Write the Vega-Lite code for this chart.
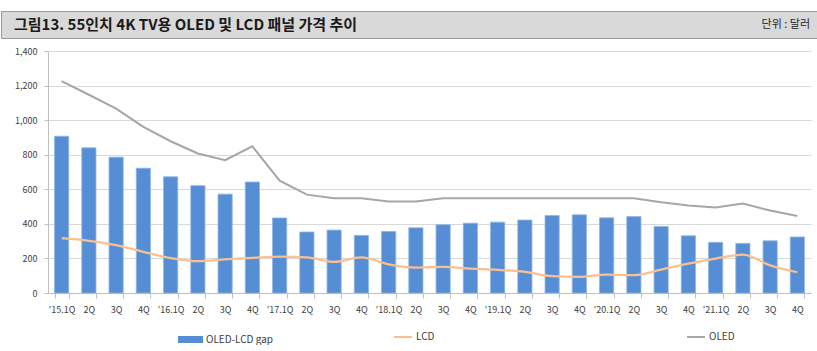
{
  "$schema": "https://vega.github.io/schema/vega-lite/v6.json",
  "padding": {"top": 10, "left": 0, "right": 0, "bottom": 0},
  "spacing": 8,
  "config": {
    "font": "Noto Sans CJK KR",
    "concat": {"spacing": 0},
    "view": {"stroke": null},
    "axis": {"labelFont": "Noto Sans CJK KR", "labelFontSize": 9, "labelColor": "#404040", "titleFont": "Noto Sans CJK KR"},
    "legend": {"labelFont": "Noto Sans CJK KR", "labelFontSize": 10, "labelColor": "#404040"}
  },
  "datasets": {
    "prices": [
      {"q": "'15.1Q", "gap": 907, "lcd": 317, "oled": 1226},
      {"q": "'15.2Q", "gap": 840, "lcd": 302, "oled": 1147},
      {"q": "'15.3Q", "gap": 786, "lcd": 277, "oled": 1066},
      {"q": "'15.4Q", "gap": 722, "lcd": 238, "oled": 961},
      {"q": "'16.1Q", "gap": 672, "lcd": 202, "oled": 878},
      {"q": "'16.2Q", "gap": 621, "lcd": 184, "oled": 807},
      {"q": "'16.3Q", "gap": 572, "lcd": 194, "oled": 768},
      {"q": "'16.4Q", "gap": 642, "lcd": 203, "oled": 849},
      {"q": "'17.1Q", "gap": 434, "lcd": 210, "oled": 650},
      {"q": "'17.2Q", "gap": 353, "lcd": 206, "oled": 569},
      {"q": "'17.3Q", "gap": 364, "lcd": 180, "oled": 548},
      {"q": "'17.4Q", "gap": 333, "lcd": 206, "oled": 548},
      {"q": "'18.1Q", "gap": 356, "lcd": 166, "oled": 529},
      {"q": "'18.2Q", "gap": 377, "lcd": 147, "oled": 529},
      {"q": "'18.3Q", "gap": 395, "lcd": 151, "oled": 548},
      {"q": "'18.4Q", "gap": 404, "lcd": 141, "oled": 548},
      {"q": "'19.1Q", "gap": 410, "lcd": 134, "oled": 548},
      {"q": "'19.2Q", "gap": 422, "lcd": 122, "oled": 548},
      {"q": "'19.3Q", "gap": 448, "lcd": 97, "oled": 548},
      {"q": "'19.4Q", "gap": 452, "lcd": 93, "oled": 548},
      {"q": "'20.1Q", "gap": 435, "lcd": 107, "oled": 548},
      {"q": "'20.2Q", "gap": 442, "lcd": 103, "oled": 548},
      {"q": "'20.3Q", "gap": 385, "lcd": 135, "oled": 525},
      {"q": "'20.4Q", "gap": 331, "lcd": 170, "oled": 506},
      {"q": "'21.1Q", "gap": 293, "lcd": 199, "oled": 494},
      {"q": "'21.2Q", "gap": 287, "lcd": 222, "oled": 517},
      {"q": "'21.3Q", "gap": 302, "lcd": 160, "oled": 477},
      {"q": "'21.4Q", "gap": 324, "lcd": 120, "oled": 446}
    ],
    "header": [
      {"title": "그림13. 55인치 4K TV용 OLED 및 LCD 패널 가격 추이", "unit": "단위 : 달러"}
    ]
  },
  "vconcat": [
    {
      "width": 817,
      "height": 27,
      "view": {"fill": "#d9d9d9", "stroke": "#9a9a9a", "strokeWidth": 1},
      "data": {"name": "header"},
      "layer": [
        {
          "mark": {"type": "text", "align": "left", "baseline": "middle", "font": "Noto Sans CJK KR", "fontSize": 15, "fontWeight": "bold", "color": "#1a1a1a"},
          "encoding": {"text": {"field": "title"}, "x": {"value": 13}, "y": {"value": 14}}
        },
        {
          "mark": {"type": "text", "align": "right", "baseline": "middle", "font": "Noto Sans CJK KR", "fontSize": 11, "color": "#262626"},
          "encoding": {"text": {"field": "unit"}, "x": {"value": 809}, "y": {"value": 14}}
        }
      ]
    },
    {
      "spacing": 0,
      "hconcat": [
        {
          "width": 1,
          "height": 10,
          "data": {"name": "header"},
          "mark": {"type": "text", "opacity": 0},
          "encoding": {"text": {"value": ""}}
        },
        {
          "width": 763,
          "height": 242,
          "data": {"name": "prices"},
          "encoding": {
            "x": {
              "field": "q", "type": "nominal", "sort": null,
              "scale": {"paddingInner": 0.48, "paddingOuter": 0.24},
              "axis": {
                "title": null, "labelAngle": 0, "tickBand": "extent",
                "domainColor": "#bfbfbf", "tickColor": "#bfbfbf", "tickSize": 5, "labelPadding": 7,
                "labelExpr": "indexof(datum.label, '.1Q') >= 0 ? datum.label : slice(datum.label, -2)"
              }
            },
            "y": {
              "field": "gap", "type": "quantitative",
              "scale": {"domain": [0, 1400]},
              "axis": {
                "title": null, "values": [0, 200, 400, 600, 800, 1000, 1200, 1400], "format": ",.0f",
                "labelOverlap": false, "tickCount": 8, "minExtent": 46,
                "domainColor": "#bfbfbf", "tickColor": "#bfbfbf", "tickSize": 4, "labelPadding": 7,
                "gridColor": "#d9d9d9"
              }
            }
          },
          "layer": [
            {
              "mark": {"type": "bar", "color": "#558ed5", "stroke": "#8fb4e3", "strokeWidth": 0.8},
              "encoding": {
                "fill": {
                  "datum": "OLED-LCD gap",
                  "scale": {"range": ["#558ed5"]},
                  "legend": {
                    "title": null, "orient": "none", "legendX": 177, "legendY": 316,
                    "symbolType": "M-1,-0.28H1V0.28H-1Z", "symbolSize": 625, "symbolStrokeWidth": 0,
                    "labelOffset": 3
                  }
                }
              }
            },
            {
              "mark": {"type": "line", "strokeWidth": 2.25, "interpolate": "monotone"},
              "encoding": {
                "y": {"field": "lcd", "type": "quantitative"},
                "stroke": {
                  "datum": "LCD",
                  "scale": {"domain": ["LCD", "OLED"], "range": ["#fac090", "#a6a6a6"]},
                  "legend": {
                    "title": null, "orient": "none", "legendX": 392, "legendY": 316, "direction": "horizontal",
                    "symbolType": "stroke", "symbolSize": 324, "symbolStrokeWidth": 2, "labelOffset": 3,
                    "columnPadding": 248
                  }
                }
              }
            },
            {
              "mark": {"type": "line", "strokeWidth": 2},
              "encoding": {
                "y": {"field": "oled", "type": "quantitative"},
                "stroke": {"datum": "OLED"}
              }
            }
          ]
        }
      ]
    }
  ]
}
